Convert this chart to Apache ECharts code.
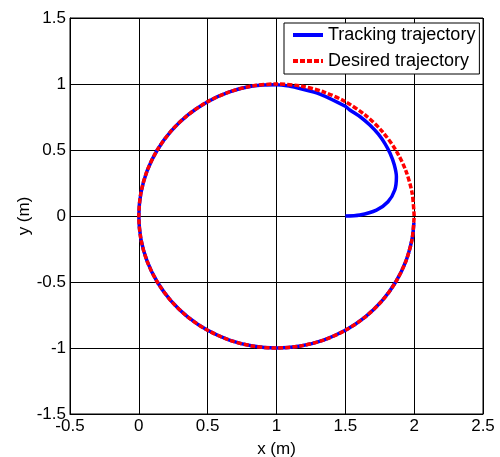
<!DOCTYPE html>
<html>
<head>
<meta charset="utf-8">
<script src="https://cdn.jsdelivr.net/npm/echarts@6/dist/echarts.min.js"></script>
<style>html,body{margin:0;padding:0;background:#fff}#c{width:500px;height:457px}</style>
</head>
<body>
<div id="c"></div>
<script>
// Desired trajectory: circle points (every 10 degrees)
var desiredX = [2, 1.985, 1.940, 1.866, 1.766, 1.643, 1.5, 1.342, 1.174, 1, 0.826, 0.658, 0.5, 0.357, 0.234, 0.134, 0.060, 0.015, 0, 0.015, 0.060, 0.134, 0.234, 0.357, 0.5, 0.658, 0.826, 1, 1.174, 1.342, 1.5, 1.643, 1.766, 1.866, 1.940, 1.985, 2];
var desiredY = [0, 0.174, 0.342, 0.5, 0.643, 0.766, 0.866, 0.940, 0.985, 1, 0.985, 0.940, 0.866, 0.766, 0.643, 0.5, 0.342, 0.174, 0, -0.174, -0.342, -0.5, -0.643, -0.766, -0.866, -0.940, -0.985, -1, -0.985, -0.940, -0.866, -0.766, -0.643, -0.5, -0.342, -0.174, 0];
// Tracking trajectory: transient from (1.5, 0) then following the circle
var trackingX = [1.5, 1.605, 1.726, 1.81, 1.859, 1.871, 1.855, 1.825, 1.79, 1.74, 1.678, 1.61, 1.533, 1.5, 1.315, 1.17, 1.098, 1, 0.826, 0.658, 0.5, 0.357, 0.234, 0.134, 0.060, 0.015, 0, 0.015, 0.060, 0.134, 0.234, 0.357, 0.5, 0.658, 0.826, 1, 1.174, 1.342, 1.5, 1.643, 1.766, 1.866, 1.940, 1.985, 1.998];
var trackingY = [0, 0.008, 0.045, 0.108, 0.197, 0.298, 0.39, 0.475, 0.545, 0.62, 0.689, 0.75, 0.803, 0.831, 0.924, 0.966, 0.983, 0.995, 0.985, 0.940, 0.866, 0.766, 0.643, 0.5, 0.342, 0.174, 0, -0.174, -0.342, -0.5, -0.643, -0.766, -0.866, -0.940, -0.985, -1, -0.985, -0.940, -0.866, -0.766, -0.643, -0.5, -0.342, -0.174, -0.05];
var xTicks = [-0.5, 0, 0.5, 1, 1.5, 2, 2.5];
var yTicks = [-1.5, -1, -0.5, 0, 0.5, 1, 1.5];
var seriesNames = ['Tracking trajectory', 'Desired trajectory'];

function pairs(xs, ys) { return xs.map(function (x, i) { return [x, ys[i]]; }); }

var FONT = '"Liberation Sans", Arial, Helvetica, sans-serif';
var chart = echarts.init(document.getElementById('c'), null, { renderer: 'canvas' });
chart.setOption({
  animation: false,
  backgroundColor: '#fff',
  grid: { left: 70, right: 17, top: 18, bottom: 43, containLabel: false, outerBoundsMode: 'none', show: true, borderColor: '#000', borderWidth: 1, backgroundColor: 'transparent' },
  legend: {
    data: seriesNames,
    orient: 'vertical',
    left: 284, top: 23,
    padding: [3, 4, 4, 7],
    itemGap: 8,
    itemWidth: 30, itemHeight: 14,
    itemStyle: { opacity: 0 },
    lineStyle: { width: 4 },
    borderColor: '#000', borderWidth: 1, backgroundColor: '#fff',
    textStyle: { fontFamily: FONT, fontSize: 18, color: '#000' }
  },
  xAxis: {
    type: 'value', min: xTicks[0], max: xTicks[xTicks.length - 1], interval: 0.5,
    name: 'x (m)', nameLocation: 'middle', nameGap: 27, nameMoveOverlap: false,
    nameTextStyle: { fontFamily: FONT, fontSize: 17, color: '#000' },
    axisLine: { show: true, onZero: false, lineStyle: { color: '#000', width: 1 } },
    axisTick: { show: false },
    axisLabel: { fontFamily: FONT, fontSize: 17, color: '#000', margin: 4 },
    splitLine: { show: true, lineStyle: { color: '#000', width: 1 } }
  },
  yAxis: {
    type: 'value', min: yTicks[0], max: yTicks[yTicks.length - 1], interval: 0.5,
    name: 'y (m)', nameLocation: 'middle', nameGap: 37, nameMoveOverlap: false,
    nameTextStyle: { fontFamily: FONT, fontSize: 17, color: '#000' },
    axisLine: { show: true, onZero: false, lineStyle: { color: '#000', width: 1 } },
    axisTick: { show: false },
    axisLabel: { fontFamily: FONT, fontSize: 17, color: '#000', margin: 4 },
    splitLine: { show: true, lineStyle: { color: '#000', width: 1 } }
  },
  series: [
    {
      name: seriesNames[0], type: 'line', data: pairs(trackingX, trackingY),
      symbol: 'none', smooth: 0.3, z: 3,
      lineStyle: { color: '#0000ff', width: 3.5 }, itemStyle: { color: '#0000ff' }
    },
    {
      name: seriesNames[1], type: 'line', data: pairs(desiredX, desiredY),
      symbol: 'none', smooth: 0.3, z: 4,
      lineStyle: { color: '#ff0000', width: 3.5, type: [5, 2] }, itemStyle: { color: '#ff0000' }
    }
  ]
});
</script>
</body>
</html>
